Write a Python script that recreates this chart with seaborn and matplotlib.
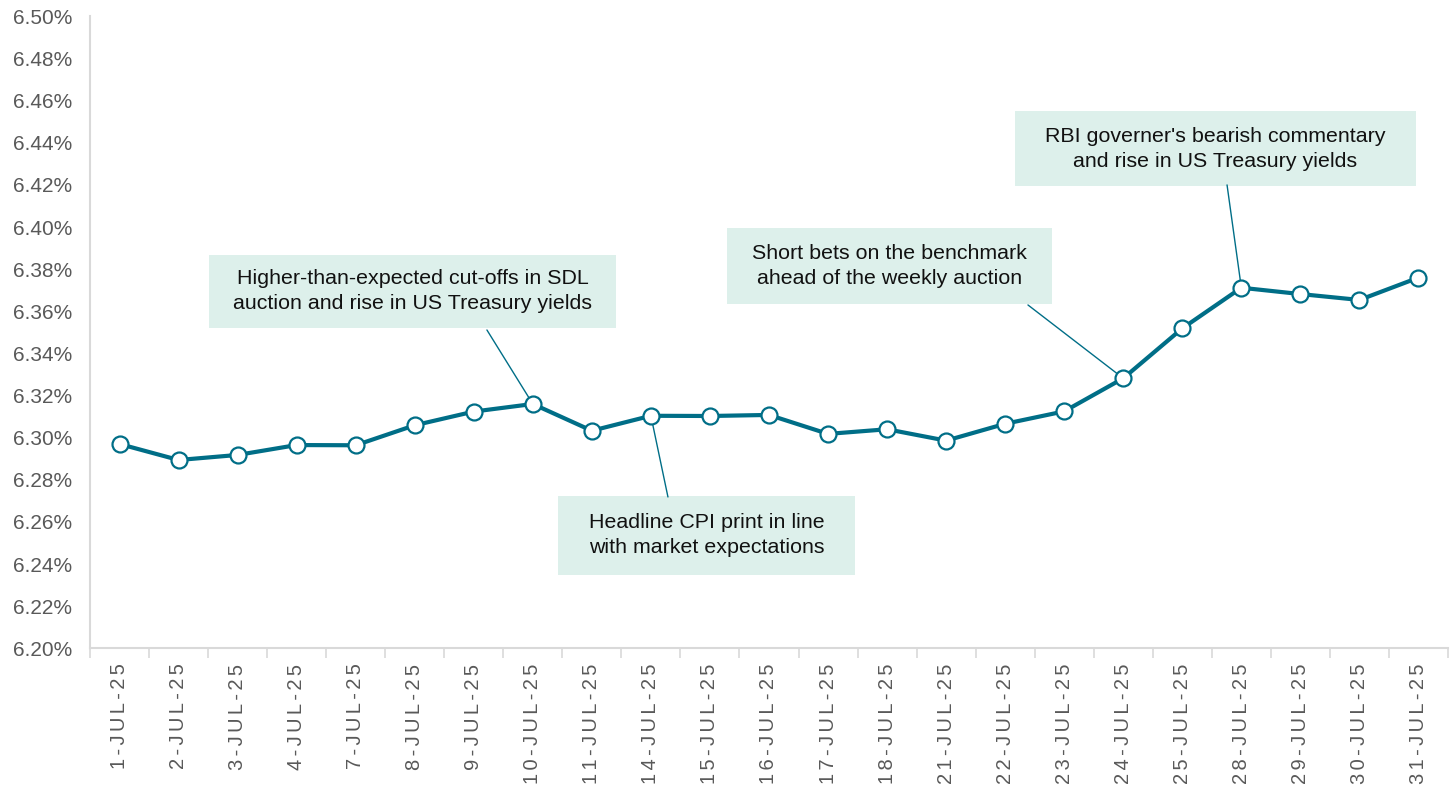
import matplotlib
matplotlib.use("Agg")
import matplotlib.pyplot as plt
import matplotlib.patches as mpatches
from matplotlib.ticker import FixedLocator, FuncFormatter
import numpy as np
import pandas as pd
import seaborn as sns

# 10-year benchmark G-sec yield, July 2025 trading days
dates = ["1-JUL-25", "2-JUL-25", "3-JUL-25", "4-JUL-25", "7-JUL-25", "8-JUL-25",
         "9-JUL-25", "10-JUL-25", "11-JUL-25", "14-JUL-25", "15-JUL-25", "16-JUL-25",
         "17-JUL-25", "18-JUL-25", "21-JUL-25", "22-JUL-25", "23-JUL-25", "24-JUL-25",
         "25-JUL-25", "28-JUL-25", "29-JUL-25", "30-JUL-25", "31-JUL-25"]
yields = [6.2970, 6.2894, 6.2918, 6.2965, 6.2964, 6.3059, 6.3124, 6.3160,
          6.3033, 6.3104, 6.3103, 6.3108, 6.3018, 6.3040, 6.2986, 6.3066,
          6.3125, 6.3282, 6.3519, 6.3712, 6.3682, 6.3654, 6.3760]
y_ticks = [6.20, 6.22, 6.24, 6.26, 6.28, 6.30, 6.32, 6.34, 6.36, 6.38,
           6.40, 6.42, 6.44, 6.46, 6.48, 6.50]

notes = [
    "Higher-than-expected cut-offs in SDL\nauction and rise in US Treasury yields",
    "Headline CPI print in line\nwith market expectations",
    "Short bets on the benchmark\nahead of the weekly auction",
    "RBI governer's bearish commentary\nand rise in US Treasury yields",
]
note_dates = ["10-JUL-25", "14-JUL-25", "24-JUL-25", "28-JUL-25"]

LINE = "#006E87"
BOX = "#DDF0EB"
GRID = "#D9D9D9"
TICK_TXT = "#595959"

sns.set_theme(style="white")
plt.rcParams["font.family"] = ["Liberation Sans", "DejaVu Sans"]

df = pd.DataFrame({"pos": np.arange(len(dates)), "date": dates, "yield": yields})

fig = plt.figure(figsize=(14.56, 7.93), dpi=100)
ax = fig.add_axes([0.0618, 0.1825, 0.9327, 0.7967])

sns.lineplot(data=df, x="pos", y="yield", ax=ax, color=LINE, linewidth=3.0,
             marker="o", markersize=11.5, markerfacecolor="white",
             markeredgecolor=LINE, markeredgewidth=1.6, sort=False, zorder=3)

ax.set_xlim(-0.5, len(dates) - 0.5)
ax.set_ylim(y_ticks[0], y_ticks[-1])
ax.set_xlabel("")
ax.set_ylabel("")

# date labels are drawn letter-spaced (six-per-em space between characters)
spaced = ["\u2006".join(d) for d in dates]
ax.xaxis.set_major_locator(FixedLocator(df["pos"].tolist()))
ax.set_xticklabels(spaced, rotation=90, fontsize=14.5, color=TICK_TXT)
ax.xaxis.set_minor_locator(FixedLocator(np.arange(len(dates) + 1) - 0.5))
ax.tick_params(axis="x", which="major", length=0, pad=11)
ax.tick_params(axis="x", which="minor", length=7, width=1.2, color=GRID, direction="out", bottom=True)

ax.yaxis.set_major_locator(FixedLocator(y_ticks))
ax.yaxis.set_major_formatter(FuncFormatter(lambda v, _: f"{v:.2f}%"))
ax.tick_params(axis="y", length=0, labelsize=15, labelcolor=TICK_TXT, pad=13)

for side in ["top", "right"]:
    ax.spines[side].set_visible(False)
for side in ["left", "bottom"]:
    ax.spines[side].set_color(GRID)
    ax.spines[side].set_linewidth(1.5)
ax.grid(False)

# annotation boxes (axes fraction: x0, y0, x1, y1) and connector start points
boxes = [(0.0876, 0.507, 0.3873, 0.6225),
         (0.3446, 0.116, 0.5633, 0.2412),
         (0.4691, 0.545, 0.7084, 0.6653),
         (0.6811, 0.7317, 0.9764, 0.8504)]
starts = [(0.2923, 0.5038), (0.4256, 0.2395), (0.6907, 0.5434), (0.8373, 0.7334)]

for text, d, (x0, y0, x1, y1), (sx, sy) in zip(notes, note_dates, boxes, starts):
    rect = mpatches.Rectangle((x0, y0), x1 - x0, y1 - y0, transform=ax.transAxes,
                              facecolor=BOX, edgecolor="none", zorder=1)
    ax.add_patch(rect)
    ax.text((x0 + x1) / 2, (y0 + y1) / 2, text, transform=ax.transAxes,
            ha="center", va="center", fontsize=15.4, color="#111111",
            linespacing=1.4, zorder=2)
    i = dates.index(d)
    ax.annotate("", xy=(i, yields[i]), xycoords="data",
                xytext=(sx, sy), textcoords="axes fraction",
                arrowprops=dict(arrowstyle="-", color=LINE, lw=1.0,
                                shrinkA=0, shrinkB=0), zorder=2)

fig.savefig("out.png", dpi=100)
